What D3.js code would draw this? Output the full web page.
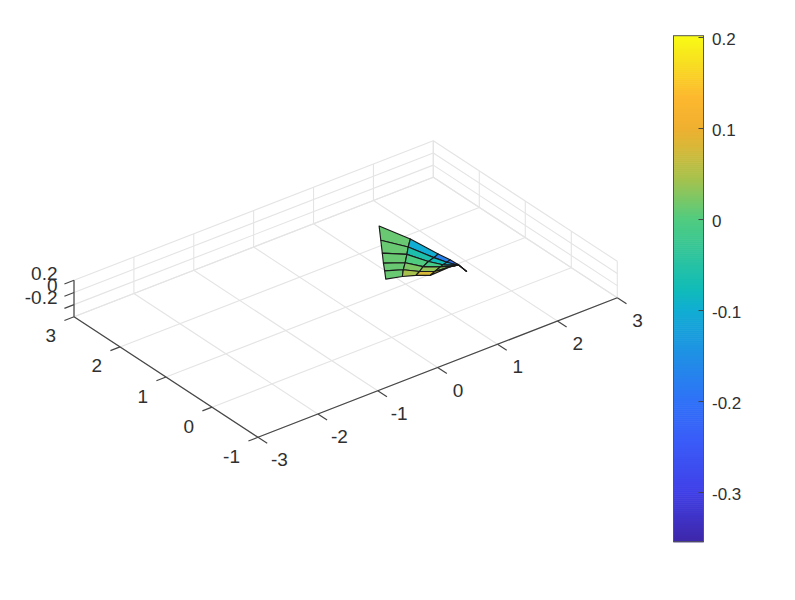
<!DOCTYPE html>
<html>
<head>
<meta charset="utf-8">
<script src="https://cdn.jsdelivr.net/npm/d3@7"></script>
<style>
html,body{margin:0;padding:0;background:#fff;}
svg{display:block;}
text{font-family:"Liberation Sans",Arial,sans-serif;fill:#303030;}
.axes text{font-size:19px;}
.colorbar text{font-size:17px;}
</style>
</head>
<body>
<svg id="chart" width="795" height="600"></svg>
<script>
const xTicks = [-3,-2,-1,0,1,2,3];
const yTicks = [-1,0,1,2,3];
const zTicks = [-0.2,0,0.2];
const xLim = [-3,3];
const yLim = [-1,3];
const zLim = [-0.4,0.2];
const cLim = [-0.354,0.202];
const cbTicks = [-0.3,-0.2,-0.1,0,0.1,0.2];

// surface grid: one inner array per row, left to right
const surfaceX = [
  [1.25,1.48,1.60,1.66,1.67,1.57,1.55],
  [1.04,1.29,1.405,1.49,1.55,1.57,1.55],
  [0.85,1.10,1.22,1.34,1.48,1.57,1.55],
  [0.70,0.925,1.04,1.22,1.41,1.57,1.55],
  [0.59,0.77,0.88,1.05,1.35,1.57,1.55],
  [0.47,0.64,0.77,0.92,1.31,1.57,1.55]
];
const surfaceY = [
  [1.90,1.52,1.07,0.89,0.74,0.59,0.39],
  [1.59,1.32,0.91,0.74,0.61,0.59,0.39],
  [1.31,1.10,0.79,0.63,0.55,0.59,0.39],
  [1.09,0.91,0.67,0.53,0.48,0.59,0.39],
  [0.92,0.75,0.54,0.43,0.45,0.59,0.39],
  [0.74,0.60,0.475,0.36,0.44,0.59,0.39]
];
const surfaceZ = [
  [0.013,-0.10,-0.17,-0.20,-0.20,-0.10,-0.10],
  [0.013,-0.06,-0.076,-0.10,-0.10,-0.10,-0.10],
  [0.013, 0.00,-0.01,-0.03,-0.05,-0.10,-0.10],
  [0.013, 0.024, 0.035, 0.03, 0.00,-0.10,-0.10],
  [0.013, 0.046, 0.08, 0.07, 0.03,-0.10,-0.10],
  [0.013, 0.06, 0.09, 0.09, 0.04,-0.10,-0.10]
];
const colorPositions = [0,0.1,0.2,0.28,0.46,0.5,0.637,0.72,0.78,0.82,0.88,0.95,1];
const colorStops = ["#3e26a8","#4040e8","#3a5cf8","#2f72f8","#10aed2","#10bcb8","#50cc80","#a8c24c","#d8b838","#f0b030","#fdb82f","#f8e020","#f9fb15"];

const svg = d3.select("#chart");

// Orthographic projection, one pair of scales per data axis
const xToPx = d3.scaleLinear().domain(xLim).range([0,359.3]);
const xToPy = d3.scaleLinear().domain(xLim).range([0,-139.5]);
const yToPx = d3.scaleLinear().domain(yLim).range([0,-184]);
const yToPy = d3.scaleLinear().domain(yLim).range([0,-120.5]);
const zToPy = d3.scaleLinear().domain(zLim).range([0,-36.5]);
const origin = [258,437.3];
const project = (x,y,z) => [
  origin[0] + xToPx(x) + yToPx(y),
  origin[1] + xToPy(x) + yToPy(y) + zToPy(z)
];

const parula = d3.scaleLinear()
  .domain(colorPositions.map(t=>cLim[0]+(cLim[1]-cLim[0])*t))
  .range(colorStops)
  .interpolate(d3.interpolateRgb);

const segLine = (g,a,b,color,w) => g.append("line")
  .attr("x1",a[0]).attr("y1",a[1]).attr("x2",b[0]).attr("y2",b[1])
  .attr("stroke",color).attr("stroke-width",w);

// Grid
const grid = svg.append("g").attr("class","grid");
const gc = "#e4e4e4", gw = 1.1;
xTicks.forEach(x=>{
  segLine(grid,project(x,yLim[0],zLim[0]),project(x,yLim[1],zLim[0]),gc,gw);
  segLine(grid,project(x,yLim[1],zLim[0]),project(x,yLim[1],zLim[1]),gc,gw);
});
yTicks.forEach(y=>{
  segLine(grid,project(xLim[0],y,zLim[0]),project(xLim[1],y,zLim[0]),gc,gw);
  segLine(grid,project(xLim[1],y,zLim[0]),project(xLim[1],y,zLim[1]),gc,gw);
});
zTicks.concat([zLim[0]]).forEach(z=>{
  segLine(grid,project(xLim[0],yLim[1],z),project(xLim[1],yLim[1],z),gc,gw);
  segLine(grid,project(xLim[1],yLim[1],z),project(xLim[1],yLim[0],z),gc,gw);
});

// Axes
const axes = svg.append("g").attr("class","axes");
const ac = "#464646", aw = 1.2;
segLine(axes,project(xLim[0],yLim[0],zLim[0]),project(xLim[1],yLim[0],zLim[0]),ac,aw);
segLine(axes,project(xLim[0],yLim[0],zLim[0]),project(xLim[0],yLim[1],zLim[0]),ac,aw);
segLine(axes,project(xLim[0],yLim[1],zLim[0]),project(xLim[0],yLim[1],zLim[1]),ac,aw);

const xTickLen = 0.2, yTickLen = 0.16;
xTicks.forEach(x=>{
  const p = project(x,yLim[0],zLim[0]);
  segLine(axes,p,project(x,yLim[0]-xTickLen,zLim[0]),ac,aw);
  axes.append("text").attr("x",p[0]+(x<0?13:15)).attr("y",p[1]+29).attr("text-anchor","start").text(x);
});
yTicks.forEach(y=>{
  const p = project(xLim[0],y,zLim[0]);
  segLine(axes,p,project(xLim[0]-yTickLen,y,zLim[0]),ac,aw);
  axes.append("text").attr("x",p[0]-18).attr("y",p[1]+25.5).attr("text-anchor","end").text(y);
});
zTicks.forEach(z=>{
  const p = project(xLim[0],yLim[1],z);
  segLine(axes,p,project(xLim[0]-yTickLen,yLim[1],z),ac,aw);
  axes.append("text").attr("x",p[0]-16.5).attr("y",p[1]-0.5).attr("text-anchor","end").text(z);
});

// Surface
const cells = [];
d3.range(surfaceX.length-1).forEach(r=>{
  d3.range(surfaceX[0].length-1).forEach(c=>{
    const corner = (i,j)=>project(surfaceX[i][j],surfaceY[i][j],surfaceZ[i][j]);
    cells.push({
      pts:[corner(r,c),corner(r,c+1),corner(r+1,c+1),corner(r+1,c)],
      v:surfaceZ[r][c]
    });
  });
});
svg.append("g").attr("class","surface").selectAll("polygon").data(cells).join("polygon")
  .attr("points",d=>d.pts.map(p=>p.join(",")).join(" "))
  .attr("fill",d=>parula(d.v))
  .attr("stroke","#1a1a1a")
  .attr("stroke-width",1.15)
  .attr("stroke-linejoin","round");

// Colorbar
const cbY = d3.scaleLinear().domain(cLim).range([541.7,35.7]);
const cbLeft = 673.5, cbRight = 703.5;
const cb = svg.append("g").attr("class","colorbar");
const levels = d3.range(0,256).map(i=>cLim[0]+(cLim[1]-cLim[0])*i/256);
const step = (cLim[1]-cLim[0])/256;
cb.selectAll("rect.level").data(levels).join("rect").attr("class","level")
  .attr("x",cbLeft).attr("width",cbRight-cbLeft)
  .attr("y",d=>cbY(d+step)).attr("height",d=>cbY(d)-cbY(d+step)+0.6)
  .attr("fill",d=>parula(d+step/2));
cb.append("rect").attr("x",cbLeft).attr("y",cbY(cLim[1]))
  .attr("width",cbRight-cbLeft).attr("height",cbY(cLim[0])-cbY(cLim[1]))
  .attr("fill","none").attr("stroke","#555").attr("stroke-width",1);
cbTicks.forEach(t=>{
  const y = cbY(t);
  segLine(cb,[cbRight-5,y],[cbRight,y],"#444",1);
  cb.append("text").attr("x",712).attr("y",y+7.5).text(t);
});
</script>
</body>
</html>
